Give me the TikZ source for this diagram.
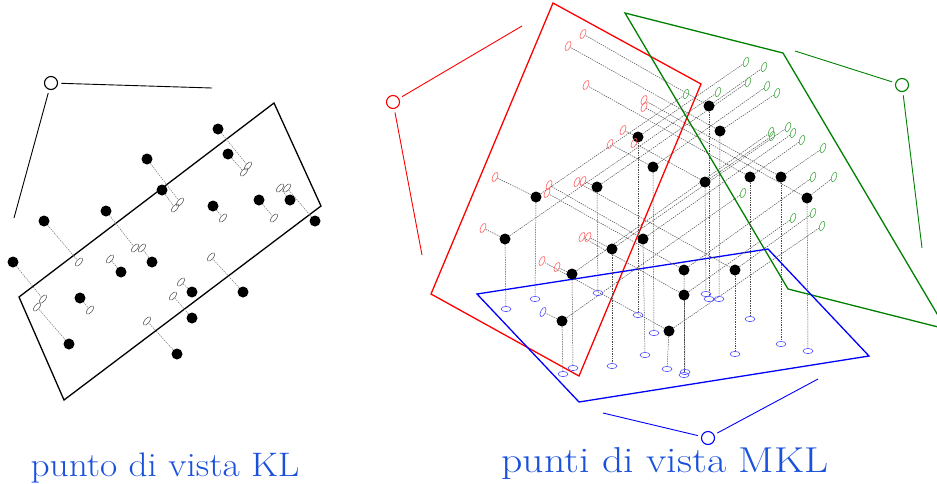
\documentclass[tikz,border=0pt]{standalone}
\usetikzlibrary{shapes.geometric}
\definecolor{planered}{RGB}{255,0,0}
\definecolor{planegreen}{RGB}{0,128,0}
\definecolor{planeblue}{RGB}{0,0,255}
\definecolor{projred}{RGB}{255,100,100}
\definecolor{projgreen}{RGB}{75,170,75}
\definecolor{projblue}{RGB}{80,80,255}
\definecolor{projgray}{RGB}{100,100,100}
\definecolor{labelblue}{RGB}{25,80,220}
\pgfdeclarelayer{back}
\pgfsetlayers{back,main}
\tikzset{
  sample/.style={circle, fill=black, minimum size=11pt, inner sep=0pt},
  viewpoint/.style={circle, draw, line width=1.1pt, minimum size=13pt, inner sep=0pt, outer sep=4pt},
  sightline/.style={line width=0.9pt},
  plane/.style={line width=1.3pt, line join=miter},
  projline/.style={draw=black!70, line width=0.5pt, dash pattern=on 1.4pt off 1pt},
  tiltshadow/.style={ellipse, draw, line width=0.6pt, minimum width=4.8pt, minimum height=10pt, inner sep=0pt},
  flatshadow/.style={ellipse, draw=projblue, line width=0.6pt, minimum width=10pt, minimum height=5.2pt, inner sep=0pt},
  caption/.style={text=labelblue, anchor=base, inner sep=0pt}
}
\begin{document}
\begin{tikzpicture}[x=1pt, y=-1pt]
\useasboundingbox (0,0) rectangle (937,483);
\clip (0,0) rectangle (937,483);

% ---------- single view (KL) ----------
\node[viewpoint] (vkl) at (51,83) {};
\coordinate (vkl1) at (212,88);
\coordinate (vkl2) at (14,218);
\begin{pgfonlayer}{back}
  \draw[sightline] (vkl) -- (vkl1);
  \draw[sightline] (vkl) -- (vkl2);
  \draw[plane] (274,103) -- (321,206) -- (64,400) -- (19,297) -- cycle;
\end{pgfonlayer}

\foreach \n/\px/\py/\sx/\sy in {
  a/218/129/248/166, b/228/154/244/172, c/147/159/180/202, d/162/190/175/208,
  e/213/206/223/218, f/259/200/274/218, g/290/200/280/188, h/315/221/287/188,
  i/44/221/79/262,   j/106/211/135/248, k/152/262/142/248, l/121/272/110/259,
  m/13/262/43/299,   n/80/298/90/310,   o/192/292/181/282, p/243/292/211/257,
  q/192/318/173/296, r/69/344/37/307,   s/177/354/147/321}
{
  \node[sample] (kp\n) at (\px,\py) {};
  \node[tiltshadow, draw=projgray, rotate=-40] (ks\n) at (\sx,\sy) {};
  \begin{pgfonlayer}{back}
    \draw[projline, draw=black!55] (kp\n) -- (ks\n);
  \end{pgfonlayer}
}

% ---------- three views (MKL) ----------
\begin{pgfonlayer}{back}
  \draw[plane, planered]   (553,3) -- (701,84) -- (579,376) -- (431,294) -- cycle;
  \draw[plane, planegreen] (625,13) -- (783,53) -- (946,329) -- (788,289) -- cycle;
  \draw[plane, planeblue]  (477,294) -- (768,249) -- (869,356) -- (579,402) -- cycle;
\end{pgfonlayer}

\node[viewpoint, draw=planered] (vr) at (393,102) {};
\coordinate (vr1) at (522,26);
\coordinate (vr2) at (422,255);
\node[viewpoint, draw=planegreen] (vg) at (902,85) {};
\coordinate (vg1) at (795,51);
\coordinate (vg2) at (922,248);
\node[viewpoint, draw=planeblue] (vb) at (708,438) {};
\coordinate (vb1) at (603,413);
\coordinate (vb2) at (818,379);
\begin{pgfonlayer}{back}
  \draw[sightline, planered] (vr) -- (vr1);
  \draw[sightline, planered] (vr) -- (vr2);
  \draw[sightline, planegreen] (vg) -- (vg1);
  \draw[sightline, planegreen] (vg) -- (vg2);
  \draw[sightline, planeblue] (vb) -- (vb1);
  \draw[sightline, planeblue] (vb) -- (vb2);
\end{pgfonlayer}

\foreach \n/\px/\py/\rx/\ry/\rc/\gx/\gy/\bx/\by in {
   1/709/106/583/34/projred/764/67/709/299,
   2/720/131/568/46/projred/777/93/719/299,
   3/638/137/623/130/projred/746/62/638/315,
   4/653/167/610/144/projred/767/86/654/333,
   5/705/182/634/143/projred/772/136/706/294,
   6/597/187/583/181/projred/748/82/598/293,
   7/536/197/495/177/projred/686/94/535/299,
   8/750/177/586/85/projred/802/140/750/319,
   9/781/177/644/100/projred/823/148/781/344,
  10/807/198/644/107/projred/834/177/808/351,
  11/505/239/483/228/projred/718/92/506/309,
  12/643/239/549/185/projred/793/133/645/355,
  13/612/249/588/237/projred/788/127/612/366,
  14/684/270/547/193/projred/813/177/685/372,
  15/735/270/577/182/projred/813/213/735/354,
  16/572/274/557/267/projred/771/132/573/368,
  17/684/295/582/237/projred/793/218/684/375,
  18/562/321/543/312/projblue/743/193/563/374,
  19/669/331/542/261/projred/822/226/667/369}
{
  \node[sample] (mp\n) at (\px,\py) {};
  \node[tiltshadow, draw=\rc, rotate=-25] (mr\n) at (\rx,\ry) {};
  \node[tiltshadow, draw=projgreen, rotate=-20] (mg\n) at (\gx,\gy) {};
  \node[flatshadow] (mb\n) at (\bx,\by) {};
  \begin{pgfonlayer}{back}
    \draw[projline] (mp\n) -- (mr\n);
    \draw[projline] (mp\n) -- (mg\n);
    \draw[projline] (mp\n) -- (mb\n);
  \end{pgfonlayer}
}

% ---------- captions ----------
\node[caption, font=\fontsize{34}{34}\selectfont] (capkl) at (165,476)
  {\scalebox{1.1}[1]{punto di vista KL}};
\node[caption, font=\fontsize{36}{36}\selectfont] (capmkl) at (665,472)
  {\scalebox{1.16}[1]{punti di vista MKL}};
\end{tikzpicture}
\end{document}
